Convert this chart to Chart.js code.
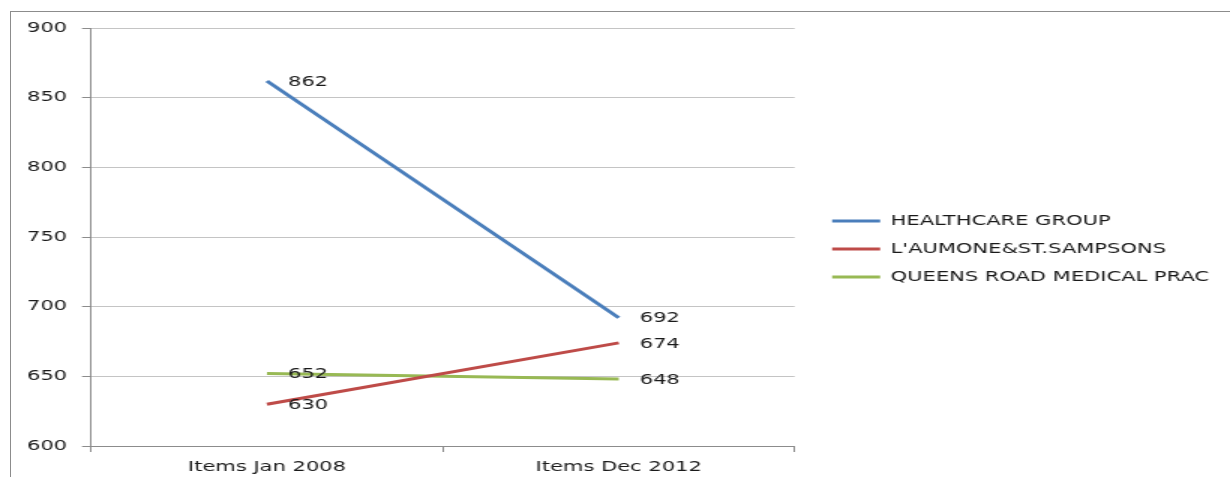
<!DOCTYPE html>
<html>
<head>
<meta charset="utf-8">
<script src="https://cdn.jsdelivr.net/npm/chart.js@4/dist/chart.umd.min.js"></script>
<style>
  html, body { margin: 0; padding: 0; background: #fff; overflow: hidden; }
  .frame {
    position: absolute; left: 10px; top: 11px; width: 1400px; height: 600px;
    border-left: 1px solid #8c8c8c; border-top: 1px solid #8c8c8c;
  }
  #chart { position: absolute; left: 0; top: 0; }
</style>
</head>
<body>
<div class="frame"></div>
<!-- the original picture is stretched sideways, so the canvas is drawn narrow and widened -->
<canvas id="chart" width="820" height="477" style="width:1230px;height:477px"></canvas>
<script>
const categories = ['Items Jan 2008', 'Items Dec 2012'];

const seriesNames = ['HEALTHCARE GROUP', "L'AUMONE&ST.SAMPSONS", 'QUEENS ROAD MEDICAL PRAC'];
const healthcareGroup = [862, 692];
const laumoneStSampsons = [630, 674];
const queensRoad = [652, 648];

const lineColors = ['#4a7ebb', '#be4b48', '#98b954'];

const yMin = 600;
const yMax = 900;
const yStep = 50;

const font = '"DejaVu Sans", sans-serif';
const textColor = '#1a1a1a';
const axisColor = '#8c8c8c';
const gridColor = '#c4c4c4';

// writes each value just right of its point
const valueLabels = {
  id: 'valueLabels',
  afterDatasetsDraw(chart) {
    const ctx = chart.ctx;
    ctx.save();
    ctx.font = '14px ' + font;
    ctx.fillStyle = textColor;
    ctx.textBaseline = 'middle';
    ctx.textAlign = 'left';
    chart.data.datasets.forEach((ds, i) => {
      chart.getDatasetMeta(i).data.forEach((pt, j) => {
        ctx.fillText(ds.data[j], pt.x + 14, pt.y + 1);
      });
    });
    ctx.restore();
  }
};

const makeDataset = (label, data, color) => ({
  label: label,
  data: data,
  borderColor: color,
  backgroundColor: color,
  borderWidth: 3,
  pointRadius: 0,
  pointHoverRadius: 0,
  tension: 0,
  yAxisID: 'y',
});

new Chart(document.getElementById('chart'), {
  type: 'line',
  data: {
    labels: categories,
    datasets: [
      makeDataset(seriesNames[0], healthcareGroup, lineColors[0]),
      makeDataset(seriesNames[1], laumoneStSampsons, lineColors[1]),
      makeDataset(seriesNames[2], queensRoad, lineColors[2]),
    ],
  },
  options: {
    responsive: false,
    animation: false,
    devicePixelRatio: 1,
    layout: { padding: { top: 28, left: 8, right: 4, bottom: 0 } },
    plugins: {
      tooltip: { enabled: false },
      legend: {
        position: 'right',
        align: 'start',
        maxWidth: 400,
        // empty title only pushes the legend rows down to the middle
        title: { display: true, text: ' ', font: { size: 10 }, padding: { top: 160, bottom: 0 } },
        labels: {
          usePointStyle: true,
          pointStyle: 'line',
          pointStyleWidth: 32,
          padding: 14,
          color: textColor,
          font: { family: font, size: 14 },
        },
      },
    },
    scales: {
      x: {
        offset: true,
        grid: {
          display: true,
          drawOnChartArea: false,
          drawTicks: true,
          tickLength: 6,
          color: axisColor,
          offset: true,
        },
        border: { display: true, color: axisColor },
        ticks: { color: textColor, font: { family: font, size: 14 }, padding: 7, maxRotation: 0 },
        afterFit: (scale) => { scale.height = 31; },
      },
      y: {
        min: yMin,
        max: yMax,
        grid: { color: gridColor, tickColor: axisColor, tickLength: 6 },
        border: { display: true, color: axisColor },
        ticks: { stepSize: yStep, color: textColor, font: { family: font, size: 14 }, padding: 10 },
        afterFit: (scale) => { scale.width = 52.7; },
      },
      gap: {
        position: 'right',
        display: true,
        grid: { display: false },
        border: { display: false },
        ticks: { display: false },
        afterFit: (scale) => { scale.width = 11; },
      },
    },
  },
  plugins: [valueLabels],
});
</script>
</body>
</html>
